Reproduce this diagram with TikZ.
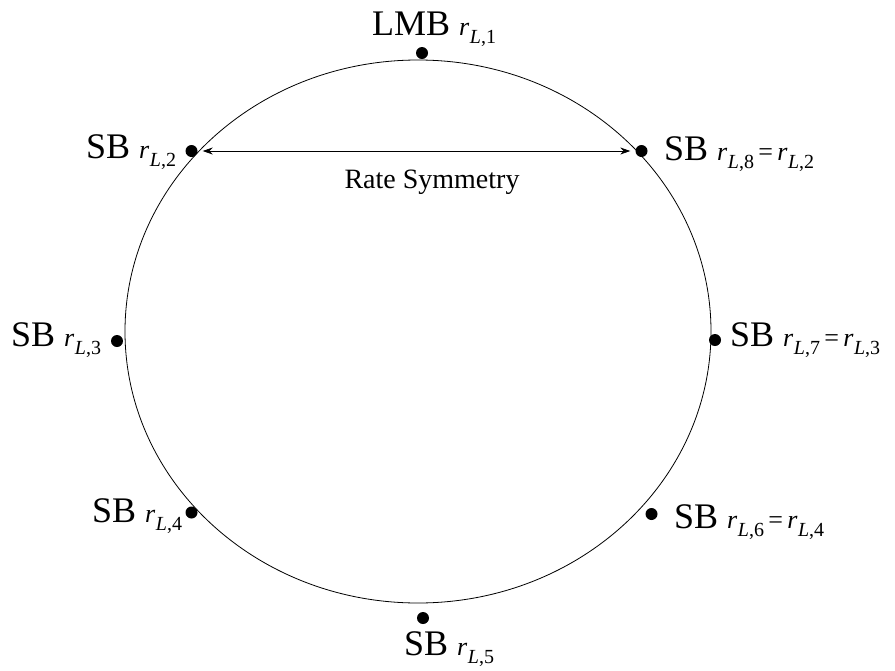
\documentclass[tikz,border=0pt]{standalone}
\usepackage{fontspec}
\setmainfont{Liberation Serif}
\usetikzlibrary{arrows.meta}
\newcommand\rsub[1]{{\fontsize{26}{26}\selectfont\textit{r}}\raisebox{-8pt}{\fontsize{20}{20}\selectfont\kern0.5pt\textit{L},#1}}
\newcommand\eqs{{\fontsize{26}{26}\selectfont\,=\,}}
\tikzset{
  dotnode/.style={circle,fill=black,inner sep=0pt,minimum size=12pt},
  lbl/.style={anchor=base west,inner sep=0pt,font=\fontsize{36}{36}\selectfont},
}
\begin{document}
\begin{tikzpicture}[x=1pt,y=-1pt]
\useasboundingbox (0,0) rectangle (895,670);
\draw[line width=0.8pt] (418,331.5) ellipse [x radius=293, y radius=271.5];
\node[dotnode] (d1) at (422,53) {};
\node[dotnode] (d2) at (191.5,151) {};
\node[dotnode] (d8) at (641.5,151) {};
\node[dotnode] (d3) at (117,341) {};
\node[dotnode] (d7) at (715,340) {};
\node[dotnode] (d4) at (191.5,512.5) {};
\node[dotnode] (d6) at (651.5,514) {};
\node[dotnode] (d5) at (423,618) {};
\node[lbl] (t1) at (372,35) {LMB \rsub{1}};
\node[lbl] (t2) at (86,158) {SB \rsub{2}};
\node[lbl] (t8) at (664,160) {SB \rsub{8}\eqs\rsub{2}};
\node[lbl] (t3) at (11,346) {SB \rsub{3}};
\node[lbl] (t7) at (730,346) {SB \rsub{7}\eqs\rsub{3}};
\node[lbl] (t4) at (92,522) {SB \rsub{4}};
\node[lbl] (t6) at (674,528) {SB \rsub{6}\eqs\rsub{4}};
\node[lbl] (t5) at (404,655) {SB \rsub{5}};
\draw[line width=0.8pt,{Stealth[length=10pt,width=7pt]}-{Stealth[length=10pt,width=7pt]},shorten <=5pt,shorten >=5pt] (d2) -- (d8);
\node[anchor=base,inner sep=0pt,font=\fontsize{28}{28}\selectfont] (rs) at (432,188) {Rate Symmetry};
\end{tikzpicture}
\end{document}
